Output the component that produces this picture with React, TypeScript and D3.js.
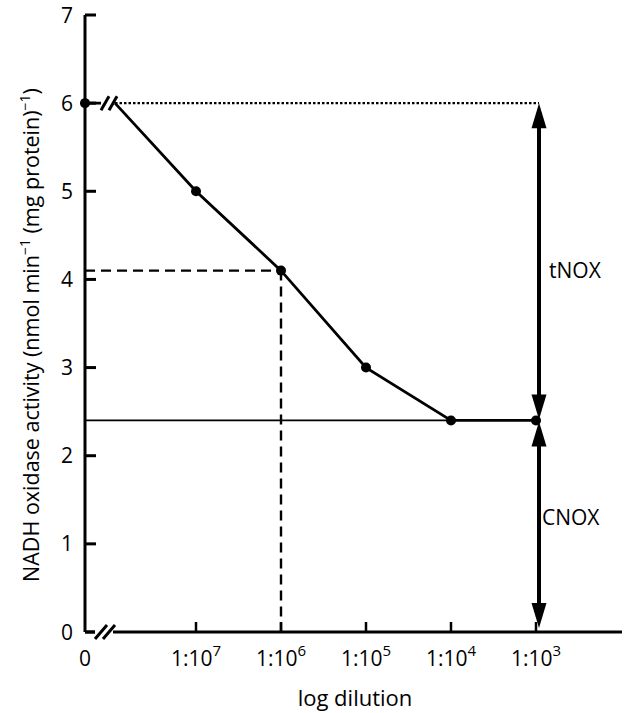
import React from "react";
import * as d3 from "d3";

const xLogs = [null, -7, -6, -5, -4, -3];
const xTickLabels = ["0", "7", "6", "5", "4", "3"];
const activity = [6, 5, 4.1, 3, 2.4, 2.4];
const yTicks = [0, 1, 2, 3, 4, 5, 6, 7];

const W = 625, H = 713;
const X0 = 85;

export default function App() {
  const x = d3.scaleLinear().domain([-7, -3]).range([196, 536]);
  const y = d3.scaleLinear().domain([0, 7]).range([632, 15]);
  const px = (v: number | null) => (v === null ? X0 : x(v));
  const font = "'Open Sans', 'Noto Sans', sans-serif";

  const pts = xLogs.map((v, i) => [px(v), y(activity[i])] as [number, number]);
  const line = d3.line();
  const lineFromBreak = line([[X0 + 30, y(activity[0])], ...pts.slice(1)]);

  const arrowX = x(-3) + 3;
  const yTop = y(6), yMid = y(2.4), yBot = y(0);

  const arrowHead = (tipY: number, dir: number) => {
    const len = 25, hw = 7.5;
    return `M${arrowX},${tipY} L${arrowX - hw},${tipY - dir * len} L${arrowX + hw},${tipY - dir * len} Z`;
  };

  return (
    <svg width={W} height={H} style={{ position: "absolute", left: 0, top: 0, background: "#fff" }} fontFamily={font}>
      {/* axes */}
      <line x1={X0} y1={y(0)} x2={X0} y2={y(7)} stroke="#000" strokeWidth={3} />
      <line x1={X0} y1={y(0)} x2={622} y2={y(0)} stroke="#000" strokeWidth={3} />
      {yTicks.map((t) => (
        <g key={t}>
          <line x1={X0} x2={X0 + 11} y1={y(t)} y2={y(t)} stroke="#000" strokeWidth={3} />
          <text x={X0 - 12} y={y(t)} dy="0.36em" textAnchor="end" fontSize={21}>{t}</text>
        </g>
      ))}
      {xLogs.map((v, i) => (
        <g key={i}>
          {v !== null && <line x1={x(v)} x2={x(v)} y1={y(0)} y2={y(0) - 10} stroke="#000" strokeWidth={2.5} />}
          <text x={px(v)} y={666} textAnchor="middle" fontSize={21}>
            {v === null ? "0" : (<>1:10<tspan dy={-10} fontSize={15}>{xTickLabels[i]}</tspan></>)}
          </text>
        </g>
      ))}
      {/* x-axis break */}
      <rect x={X0 + 10} y={y(0) - 6} width={18} height={12} fill="#fff" />
      <line x1={X0 + 10} y1={y(0) + 7} x2={X0 + 22} y2={y(0) - 7} stroke="#000" strokeWidth={3} />
      <line x1={X0 + 18} y1={y(0) + 7} x2={X0 + 30} y2={y(0) - 7} stroke="#000" strokeWidth={3} />

      {/* reference lines */}
      <line x1={X0 + 30} x2={arrowX} y1={yTop} y2={yTop} stroke="#000" strokeWidth={2.4} strokeDasharray="2.5,2" />
      <line x1={X0} x2={x(-4)} y1={yMid} y2={yMid} stroke="#000" strokeWidth={1.8} />
      <line x1={X0} x2={x(-6)} y1={y(4.1)} y2={y(4.1)} stroke="#000" strokeWidth={2.4} strokeDasharray="10,6" />
      <line x1={x(-6)} x2={x(-6)} y1={y(4.1)} y2={y(0)} stroke="#000" strokeWidth={2.4} strokeDasharray="10,6" />

      {/* data line */}
      <line x1={X0} x2={X0 + 16} y1={yTop} y2={yTop} stroke="#000" strokeWidth={2.8} />
      <path d={lineFromBreak || ""} fill="none" stroke="#000" strokeWidth={2.8} />
      <line x1={X0 + 16} y1={yTop + 7} x2={X0 + 24} y2={yTop - 7} stroke="#000" strokeWidth={3} />
      <line x1={X0 + 24} y1={yTop + 7} x2={X0 + 32} y2={yTop - 7} stroke="#000" strokeWidth={3} />
      {pts.map((p, i) => <circle key={i} cx={p[0]} cy={p[1]} r={5} fill="#000" />)}

      {/* arrows */}
      <line x1={arrowX} x2={arrowX} y1={yTop + 20} y2={yMid - 20} stroke="#000" strokeWidth={4} />
      <path d={arrowHead(yTop, -1)} fill="#000" />
      <path d={arrowHead(yMid - 1, 1)} fill="#000" />
      <line x1={arrowX} x2={arrowX} y1={yMid + 20} y2={yBot - 20} stroke="#000" strokeWidth={4} />
      <path d={arrowHead(yMid + 1, -1)} fill="#000" />
      <path d={arrowHead(yBot - 4, 1)} fill="#000" />
      <text x={arrowX + 10} y={y(4.1)} dy="0.36em" fontSize={21}>tNOX</text>
      <text x={arrowX + 3} y={y(1.3)} dy="0.36em" fontSize={21}>CNOX</text>

      {/* titles */}
      <text x={355} y={706} textAnchor="middle" fontSize={22}>log dilution</text>
      <text transform={`translate(39,${335}) rotate(-90)`} textAnchor="middle" fontSize={21.5}>
        NADH oxidase activity (nmol min<tspan dy={-9} fontSize={14}>−1</tspan><tspan dy={9}> (mg protein)</tspan><tspan dy={-9} fontSize={14}>−1</tspan><tspan dy={9}>)</tspan>
      </text>
    </svg>
  );
}
